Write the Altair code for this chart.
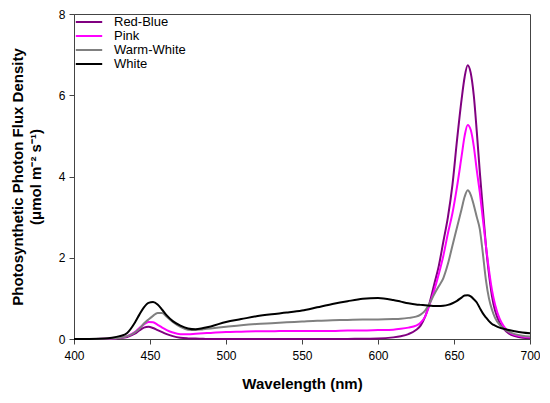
import altair as alt
import pandas as pd

wavelength = [400, 410, 420, 425, 430, 435, 440, 443, 446, 449, 452, 455, 458, 461, 465, 470, 475, 480, 485, 490,
              500, 510, 520, 530, 540, 550, 560, 570, 580, 590, 600, 610, 615, 620, 625, 628, 631, 634, 637, 640,
              643, 646, 649, 652, 655, 657, 659, 661, 663, 665, 667, 669, 671, 673, 675, 677, 680, 683, 686, 690,
              695, 700]

red_blue = [0, 0, 0, 0.005, 0.02, 0.05, 0.13, 0.21, 0.28, 0.30, 0.27, 0.22, 0.17, 0.12, 0.07, 0.03, 0.015, 0.01, 0.005, 0,
            0, 0, 0, 0, 0, 0, 0, 0, 0.002, 0.005, 0.01, 0.04, 0.07, 0.12, 0.22, 0.33, 0.55, 0.9, 1.35, 1.8,
            2.4, 3.0, 3.8, 4.9, 5.9, 6.45, 6.74, 6.55, 6.0, 5.1, 4.1, 3.2, 2.3, 1.6, 1.05, 0.7, 0.4, 0.24, 0.14, 0.07,
            0.03, 0.02]

pink = [0, 0, 0.005, 0.01, 0.03, 0.07, 0.17, 0.27, 0.36, 0.42, 0.41, 0.35, 0.28, 0.22, 0.16, 0.12, 0.12, 0.13, 0.14, 0.15,
        0.17, 0.18, 0.19, 0.19, 0.2, 0.2, 0.2, 0.2, 0.21, 0.21, 0.22, 0.23, 0.25, 0.28, 0.33, 0.4, 0.55, 0.85, 1.2, 1.6,
        2.05, 2.6, 3.1, 3.75, 4.5, 5.0, 5.27, 5.15, 4.75, 4.15, 3.6, 2.95, 2.3, 1.7, 1.2, 0.85, 0.5, 0.3, 0.18, 0.1,
        0.06, 0.04]

warm_white = [0, 0, 0.005, 0.01, 0.03, 0.07, 0.16, 0.25, 0.38, 0.48, 0.57, 0.64, 0.64, 0.55, 0.42, 0.3, 0.23, 0.22, 0.24, 0.26,
              0.3, 0.34, 0.37, 0.39, 0.41, 0.43, 0.45, 0.46, 0.47, 0.48, 0.48, 0.49, 0.5, 0.52, 0.55, 0.6, 0.7, 0.88, 1.1, 1.3,
              1.5, 1.85, 2.3, 2.75, 3.2, 3.5, 3.66, 3.55, 3.3, 3.0, 2.7, 2.1, 1.45, 1.0, 0.72, 0.52, 0.35, 0.25, 0.18, 0.12,
              0.08, 0.06]

white = [0, 0.002, 0.01, 0.03, 0.07, 0.15, 0.4, 0.6, 0.78, 0.89, 0.91, 0.85, 0.72, 0.58, 0.44, 0.33, 0.26, 0.24, 0.27, 0.31,
         0.42, 0.49, 0.56, 0.61, 0.65, 0.70, 0.78, 0.86, 0.93, 0.99, 1.01, 0.96, 0.92, 0.88, 0.85, 0.84, 0.83, 0.82, 0.81, 0.81,
         0.82, 0.84, 0.88, 0.94, 1.02, 1.07, 1.08, 1.05, 0.98, 0.9, 0.76, 0.63, 0.53, 0.44, 0.37, 0.33, 0.28, 0.25, 0.22, 0.19,
         0.16, 0.14]

series_names = ["Red-Blue", "Pink", "Warm-White", "White"]
series_colors = ["#800080", "#FF00FF", "#808080", "#000000"]
series_values = [red_blue, pink, warm_white, white]

rows = []
for name, vals in zip(series_names, series_values):
    for wl, v in zip(wavelength, vals):
        rows.append({"wl": wl, "ppfd": v, "series": name})
df = pd.DataFrame(rows)

font = "Liberation Sans"

chart = alt.Chart(df).mark_line(interpolate="monotone", strokeWidth=2).encode(
    x=alt.X("wl:Q", scale=alt.Scale(domain=[400, 700], nice=False),
            axis=alt.Axis(title="Wavelength (nm)", values=[400, 450, 500, 550, 600, 650, 700],
                          grid=False, tickSize=5, labelPadding=6, titlePadding=15, labelFlush=False)),
    y=alt.Y("ppfd:Q", scale=alt.Scale(domain=[0, 8], nice=False),
            axis=alt.Axis(title=["Photosynthetic Photon Flux Density", "(μmol m⁻² s⁻¹)"],
                          values=[0, 2, 4, 6, 8], grid=False, tickSize=5, labelPadding=4,
                          titlePadding=15, labelFlush=False)),
    color=alt.Color("series:N", scale=alt.Scale(domain=series_names, range=series_colors),
                    legend=alt.Legend(title=None, orient="none", legendX=8, legendY=1,
                                      symbolType="M-2.2,0H2.2", symbolSize=144,
                                      symbolStrokeWidth=2, labelOffset=18, rowPadding=0,
                                      padding=0, labelFontSize=13, labelFont=font)),
    order=alt.Order("series_order:Q"),
).transform_calculate(
    series_order="indexof(['Red-Blue','Pink','Warm-White','White'], datum.series)"
).properties(
    width=456, height=325,
    autosize=alt.AutoSizeParams(type="none"),
    padding={"left": 66, "top": 6, "right": 10, "bottom": 62},
).configure_view(
    stroke="#444444", strokeWidth=1
).configure_axis(
    domainColor="#444444", tickColor="#444444", labelColor="#000000",
    labelFont=font, labelFontSize=12, titleFont=font, titleFontSize=15, titleFontWeight="bold",
    titleColor="#000000", titleLineHeight=18
)

chart.save("out.html", embed_options={"renderer": "svg", "actions": False})
